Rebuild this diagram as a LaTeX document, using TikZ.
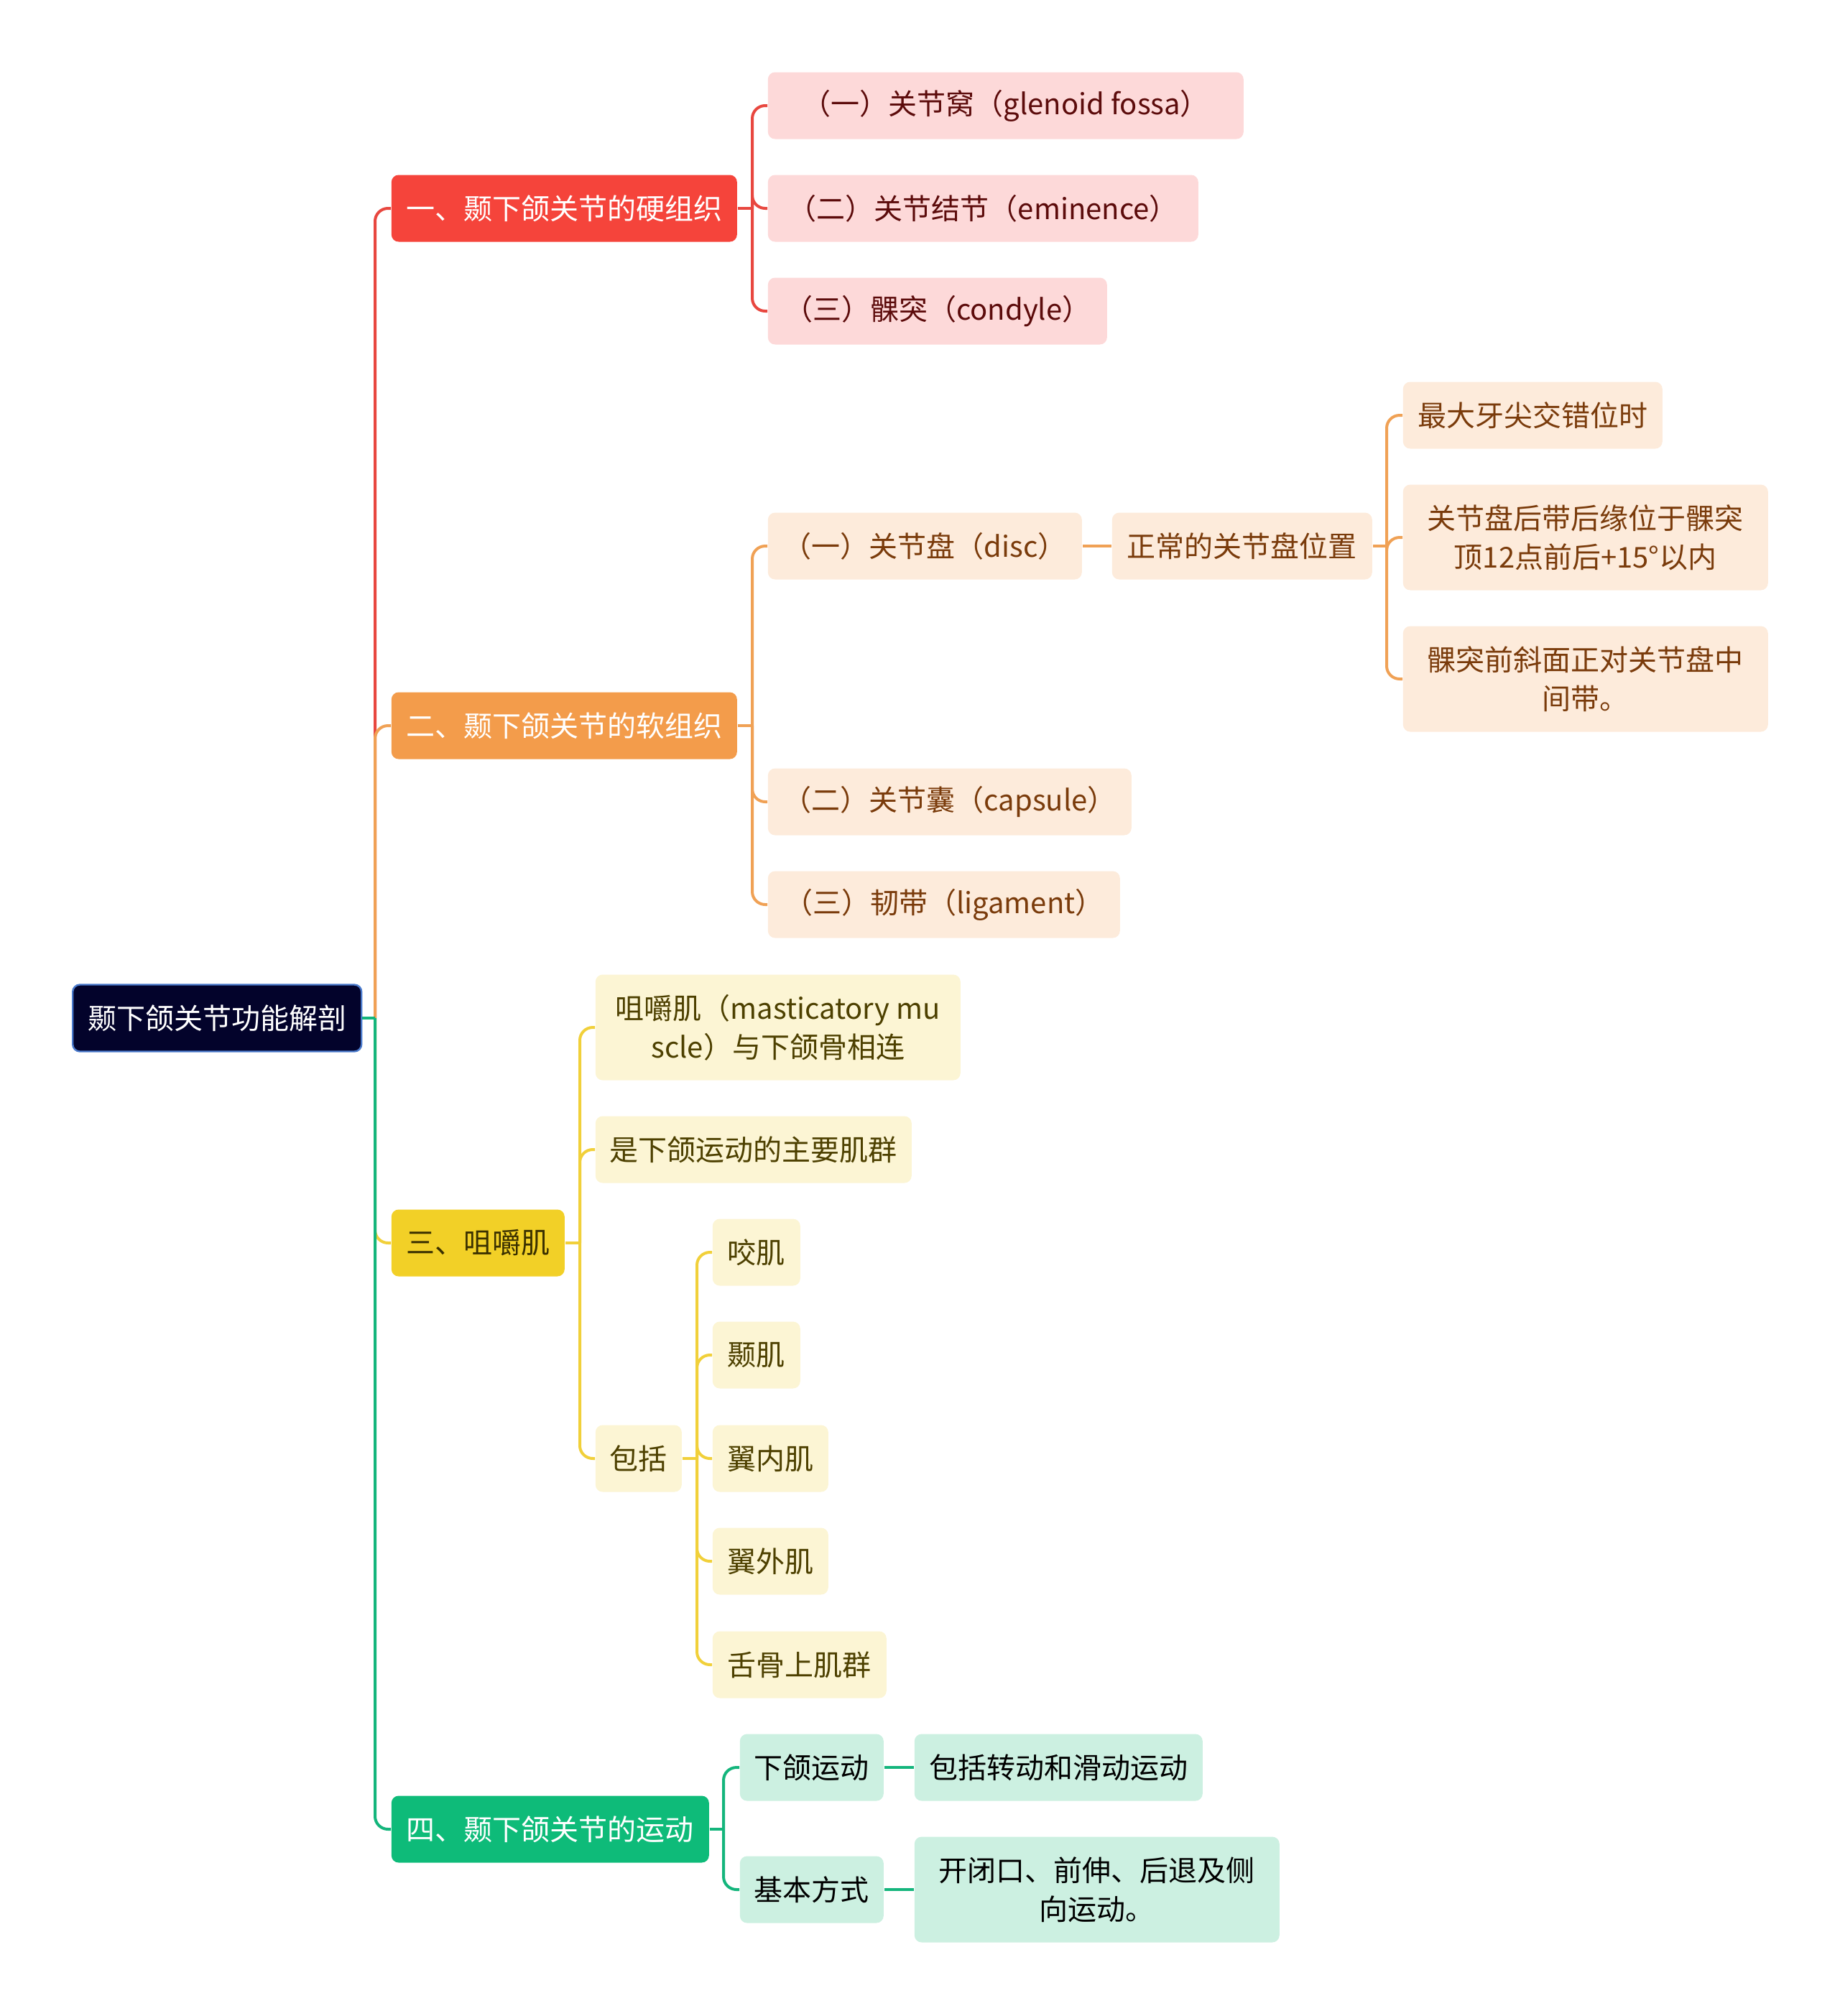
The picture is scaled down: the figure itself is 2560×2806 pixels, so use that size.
\documentclass[tikz,border=0pt]{standalone}
\usepackage{fontspec}
\setmainfont{Noto Sans CJK SC}
\definecolor{rootfill}{HTML}{03032B}
\definecolor{rootdraw}{HTML}{4A7ACC}
\definecolor{redA}{HTML}{F5443B}
\definecolor{orangeA}{HTML}{F39C4B}
\definecolor{yellowA}{HTML}{F2D027}
\definecolor{greenA}{HTML}{0EBB79}
\definecolor{redL}{HTML}{E8473F}
\definecolor{orangeL}{HTML}{F0A155}
\definecolor{yellowL}{HTML}{F1D03A}
\definecolor{greenL}{HTML}{14B57C}
\definecolor{redB}{HTML}{FDD9D9}
\definecolor{orangeB}{HTML}{FDEBDB}
\definecolor{yellowB}{HTML}{FCF5D4}
\definecolor{greenB}{HTML}{CCF0E1}
\definecolor{redT}{HTML}{5C0B0B}
\definecolor{orangeT}{HTML}{7A3B0B}
\definecolor{yellowT}{HTML}{4D4000}
\definecolor{yellowHT}{HTML}{3A3000}
\tikzset{
  box/.style={rounded corners=2.5pt, inner sep=0pt, anchor=west, align=center,
    font=\fontsize{10pt}{13.5pt}\selectfont},
  rootbox/.style={box, fill=rootfill, draw=rootdraw, line width=0.6pt, text=white},
  redH/.style={box, fill=redA, text=white},
  orangeH/.style={box, fill=orangeA, text=white},
  yellowH/.style={box, fill=yellowA, text=yellowHT},
  greenH/.style={box, fill=greenA, text=white},
  redS/.style={box, fill=redB, text=redT},
  orangeS/.style={box, fill=orangeB, text=orangeT},
  yellowS/.style={box, fill=yellowB, text=yellowT},
  greenS/.style={box, fill=greenB, text=black},
  stem/.style={line width=1pt},
  lnk/.style={line width=1pt, rounded corners=4.5pt},
  sz/.style 2 args={minimum width=#1*0.25pt, minimum height=#2*0.25pt},
}
\begin{document}
\begin{tikzpicture}[x=0.25pt, y=-0.25pt]
\useasboundingbox (0,0) rectangle (2560,2806);
% nodes
\node[rootbox, sz={402}{93}] (root) at (100,1417) {颞下颌关节功能解剖};
\node[redH, sz={481}{93}] (a) at (544,290) {一、颞下颌关节的硬组织};
\node[orangeH, sz={481}{93}] (b) at (544,1010) {二、颞下颌关节的软组织};
\node[yellowH, sz={241}{93}] (c) at (544,1730) {三、咀嚼肌};
\node[greenH, sz={442}{93}] (d) at (544,2546) {四、颞下颌关节的运动};
\node[redS, sz={662}{93}] (a1) at (1068,147) {（一）关节窝（glenoid fossa）};
\node[redS, sz={599}{93}] (a2) at (1068,290) {（二）关节结节（eminence）};
\node[redS, sz={472}{93}] (a3) at (1068,433) {（三）髁突（condyle）};
\node[orangeS, sz={437}{93}] (b1) at (1068,760) {（一）关节盘（disc）};
\node[orangeS, sz={506}{93}] (b2) at (1068,1116) {（二）关节囊（capsule）};
\node[orangeS, sz={490}{93}] (b3) at (1068,1259) {（三）韧带（ligament）};
\node[orangeS, sz={362}{93}] (b11) at (1547,760) {正常的关节盘位置};
\node[orangeS, sz={361}{93}] (b111) at (1952,578) {最大牙尖交错位时};
\node[orangeS, sz={508}{147}] (b112) at (1952,748) {关节盘后带后缘位于髁突\\顶12点前后+15°以内};
\node[orangeS, sz={508}{147}] (b113) at (1952,945) {髁突前斜面正对关节盘中\\间带。};
\node[yellowS, sz={508}{147}] (c1) at (828,1430) {咀嚼肌（masticatory mu\\scle）与下颌骨相连};
\node[yellowS, sz={440}{93}] (c2) at (828,1600) {是下颌运动的主要肌群};
\node[yellowS, sz={120}{93}] (c3) at (828,2030) {包括};
\node[yellowS, sz={122}{93}] (c31) at (991,1743) {咬肌};
\node[yellowS, sz={122}{93}] (c32) at (991,1886) {颞肌};
\node[yellowS, sz={161}{93}] (c33) at (991,2030) {翼内肌};
\node[yellowS, sz={161}{93}] (c34) at (991,2173) {翼外肌};
\node[yellowS, sz={242}{93}] (c35) at (991,2317) {舌骨上肌群};
\node[greenS, sz={200}{93}] (d1) at (1029,2460) {下颌运动};
\node[greenS, sz={200}{93}] (d2) at (1029,2630) {基本方式};
\node[greenS, sz={401}{93}] (d11) at (1272,2460) {包括转动和滑动运动};
\node[greenS, sz={508}{147}] (d21) at (1272,2630) {开闭口、前伸、后退及侧\\向运动。};
% trunk coordinates
\coordinate (t0) at (522,1417);
\coordinate (ta) at (1047,290);
\coordinate (tb) at (1047,1010);
\coordinate (tc) at (807,1730);
\coordinate (td) at (1007,2546);
\coordinate (tb11) at (1930,760);
\coordinate (tc3) at (970,2030);
% root connectors
\draw[lnk, redL] (t0) |- (a.west);
\draw[lnk, orangeL] (t0) |- (b.west);
\draw[lnk, yellowL] (t0) |- (c.west);
\draw[lnk, greenL] (t0) |- (d.west);
\draw[stem, greenL] (root.east) -- (t0);
% red
\draw[stem, redL] (a.east) -- (ta);
\draw[lnk, redL] (ta) |- (a1.west);
\draw[lnk, redL] (ta) |- (a2.west);
\draw[lnk, redL] (ta) |- (a3.west);
% orange
\draw[stem, orangeL] (b.east) -- (tb);
\draw[lnk, orangeL] (tb) |- (b1.west);
\draw[lnk, orangeL] (tb) |- (b2.west);
\draw[lnk, orangeL] (tb) |- (b3.west);
\draw[stem, orangeL] (b1.east) -- (b11.west);
\draw[stem, orangeL] (b11.east) -- (tb11);
\draw[lnk, orangeL] (tb11) |- (b111.west);
\draw[lnk, orangeL] (tb11) |- (b112.west);
\draw[lnk, orangeL] (tb11) |- (b113.west);
% yellow
\draw[stem, yellowL] (c.east) -- (tc);
\draw[lnk, yellowL] (tc) |- (c1.west);
\draw[lnk, yellowL] (tc) |- (c2.west);
\draw[lnk, yellowL] (tc) |- (c3.west);
\draw[stem, yellowL] (c3.east) -- (tc3);
\draw[lnk, yellowL] (tc3) |- (c31.west);
\draw[lnk, yellowL] (tc3) |- (c32.west);
\draw[lnk, yellowL] (tc3) |- (c33.west);
\draw[lnk, yellowL] (tc3) |- (c34.west);
\draw[lnk, yellowL] (tc3) |- (c35.west);
% green
\draw[stem, greenL] (d.east) -- (td);
\draw[lnk, greenL] (td) |- (d1.west);
\draw[lnk, greenL] (td) |- (d2.west);
\draw[stem, greenL] (d1.east) -- (d11.west);
\draw[stem, greenL] (d2.east) -- (d21.west);
\end{tikzpicture}
\end{document}
